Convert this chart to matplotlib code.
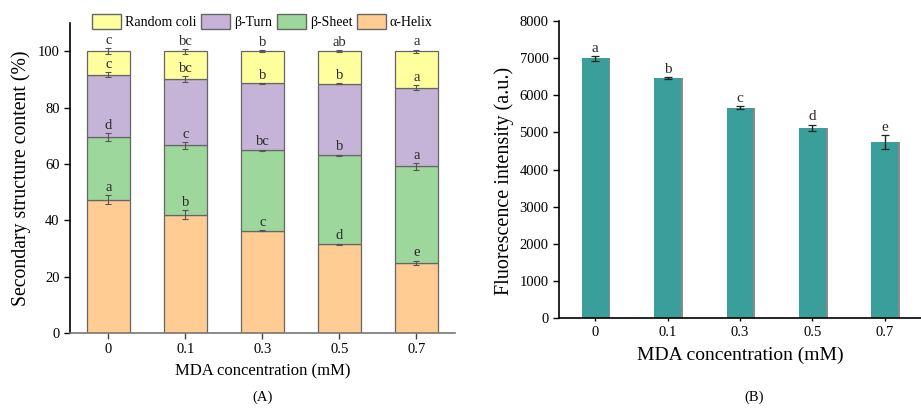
import numpy as np
import matplotlib.pyplot as plt
from matplotlib.patches import Patch

plt.rcParams['font.family'] = ['Liberation Serif', 'DejaVu Serif']

# -------- Data --------
conc = ["0", "0.1", "0.3", "0.5", "0.7"]

# (A) secondary structure (%)
helix = [47.3, 42.0, 36.3, 31.4, 24.9]
sheet = [22.2, 24.6, 28.5, 31.6, 34.3]
turn = [22.2, 23.5, 23.8, 25.4, 27.9]
coil = [8.3, 9.9, 11.4, 11.6, 12.9]

helix_err = [1.7, 1.5, 0.3, 0.3, 0.8]
sheet_err = [1.3, 1.3, 0.3, 0.3, 1.2]
turn_err = [0.8, 1.0, 0.2, 0.2, 1.0]
coil_err = [1.0, 0.9, 0.3, 0.3, 0.6]

helix_sig = ["a", "b", "c", "d", "e"]
sheet_sig = ["d", "c", "bc", "b", "a"]
turn_sig = ["c", "bc", "b", "b", "a"]
coil_sig = ["c", "bc", "b", "ab", "a"]

# (B) fluorescence intensity
fluo = [7000, 6455, 5670, 5120, 4745]
fluo_err = [65, 30, 35, 90, 180]
fluo_sig = ["a", "b", "c", "d", "e"]

# -------- Figure --------
fig = plt.figure(figsize=(9.21, 4.12), dpi=100)
axA = fig.add_axes([0.076, 0.192, 0.418, 0.752])
axB = fig.add_axes([0.607, 0.228, 0.393, 0.721])

x = np.arange(len(conc))
w = 0.55
cols = {"coil": "#FFFF9E", "turn": "#C6B4D8", "sheet": "#9ED79B", "helix": "#FFCC93"}
txt_col = "#2a2a2a"

# stacked bars
segments = [
    ("helix", helix, helix_err, helix_sig),
    ("sheet", sheet, sheet_err, sheet_sig),
    ("turn", turn, turn_err, turn_sig),
    ("coil", coil, coil_err, coil_sig),
]
bottom = np.zeros(len(conc))
for name, vals, err, sig in segments:
    vals = np.array(vals)
    axA.bar(x, vals, w, bottom=bottom, color=cols[name],
            edgecolor="#666666", linewidth=0.9, zorder=2)
    top = bottom + vals
    axA.errorbar(x, top, yerr=err, fmt="none", ecolor="#555555",
                 elinewidth=0.8, capsize=2, capthick=0.8, zorder=3)
    for i in range(len(conc)):
        axA.text(x[i], top[i] + err[i] + 0.4, sig[i], ha="center", va="bottom",
                 fontsize=10.5, color=txt_col, zorder=4)
    bottom = top

axA.set_xlim(-0.5, 4.5)
axA.set_ylim(0, 110)
axA.set_yticks([0, 20, 40, 60, 80, 100])
axA.set_xticks(x)
axA.set_xticklabels(conc)
axA.tick_params(axis="both", direction="out", labelsize=10.5, length=4, width=1)
axA.tick_params(axis="x", colors="#444444", labelcolor="black")
axA.spines["top"].set_visible(False)
axA.spines["right"].set_visible(False)
axA.spines["bottom"].set_color("#777777")
axA.spines["bottom"].set_linewidth(1.2)
axA.spines["left"].set_linewidth(1.2)
axA.set_ylabel("Secondary structure content (%)", fontsize=14.2, labelpad=5)
axA.set_xlabel("MDA concentration (mM)", fontsize=12, labelpad=5)

handles = [Patch(facecolor=cols["coil"], edgecolor="#666666", label="Random coli"),
           Patch(facecolor=cols["turn"], edgecolor="#666666", label="\u03b2-Turn"),
           Patch(facecolor=cols["sheet"], edgecolor="#666666", label="\u03b2-Sheet"),
           Patch(facecolor=cols["helix"], edgecolor="#666666", label="\u03b1-Helix")]
fig.legend(handles=handles, loc="center", bbox_to_anchor=(0.285, 0.947), ncol=4,
           frameon=False, fontsize=10, handlelength=2.1, handleheight=1.2,
           handletextpad=0.3, columnspacing=0.3)

# (B) bars with grey shadow on the right
axB.bar(x + 0.025, fluo, 0.37, color="#8a8a8a", zorder=1)
axB.bar(x, fluo, 0.37, color="#3A9E9A", zorder=2)
axB.errorbar(x, fluo, yerr=fluo_err, fmt="none", ecolor="#222222",
             elinewidth=1, capsize=3, capthick=0.9, zorder=3)
for i in range(len(conc)):
    axB.text(x[i], fluo[i] + fluo_err[i] + 30, fluo_sig[i], ha="center", va="bottom",
             fontsize=11, color=txt_col)

axB.set_xlim(-0.5, 4.5)
axB.set_ylim(0, 8000)
axB.set_yticks(range(0, 8001, 1000))
axB.set_xticks(x)
axB.set_xticklabels(conc)
axB.tick_params(axis="both", direction="out", labelsize=10.5, length=4, width=1)
axB.tick_params(axis="x", length=2)
axB.spines["top"].set_visible(False)
axB.spines["right"].set_visible(False)
axB.spines["bottom"].set_linewidth(1.2)
axB.spines["left"].set_linewidth(1.2)
axB.set_ylabel("Fluorescence intensity (a.u.)", fontsize=14.5, labelpad=4)
axB.yaxis.set_label_coords(-0.125, 0.46)
axB.set_xlabel("MDA concentration (mM)", fontsize=14, labelpad=6)

fig.text(0.285, 0.02, "(A)", ha="center", va="bottom", fontsize=10.5)
fig.text(0.819, 0.02, "(B)", ha="center", va="bottom", fontsize=10.5)

fig.savefig("out.png", dpi=100)
